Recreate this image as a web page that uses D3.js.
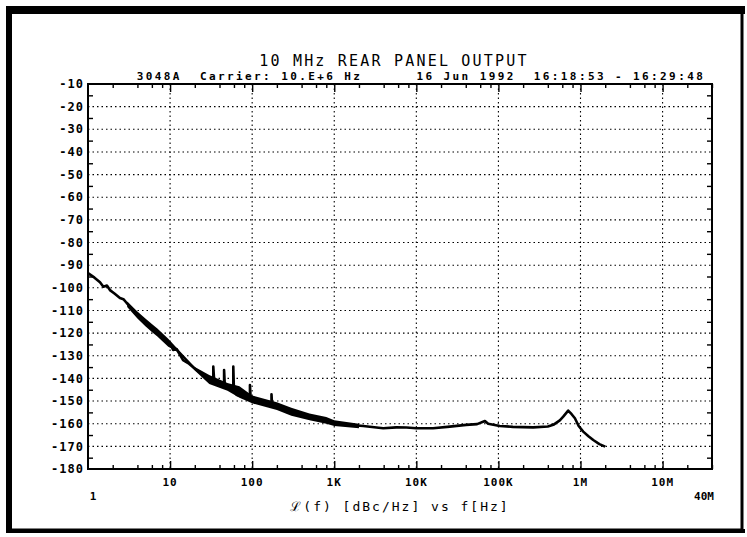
<!DOCTYPE html>
<html>
<head>
<meta charset="utf-8">
<script src="https://cdn.jsdelivr.net/npm/d3@7"></script>
<style>
  html, body { margin: 0; padding: 0; background: #fff; }
  svg text { font-family: "DejaVu Sans Mono", monospace; fill: #000; white-space: pre; }
</style>
</head>
<body>
<svg id="chart" width="747" height="537"></svg>
<script>
// --- Data ---
const traceFreq = [
  1, 1.2, 1.4, 1.54, 1.7, 1.85, 2.1, 2.45, 2.7, 2.96, 3.4, 3.93, 4.5, 5.2, 6.2, 7.5, 9.1, 10, 10.9, 12,
  14.4, 17, 21, 25, 28, 31, 33.6, 33.6, 34.5, 40, 45.5, 45.5, 46.5, 52, 58.9, 58.9, 60, 65, 80, 94,
  94, 96, 120, 150, 172, 172, 175, 199, 250, 317, 400, 550, 670, 888, 1170, 1540, 2250, 3950, 5700, 7600,
  10000, 16000, 25600, 40400, 55000, 68500, 75000, 104000, 150000, 265000, 400000, 466000, 560000, 616000,
  708000, 780000, 855000, 950000, 1.08e6, 1.25e6, 1.43e6, 1.7e6, 2.0e6
];
const traceLevel = [
  -93.5, -95.5, -97.5, -99.5, -99, -101, -102.5, -104.5, -105, -106.7, -109, -112, -113.5, -116, -118.6, -121, -123.8, -124.5, -127.4, -127,
  -131.9, -133.5, -136.3, -138, -139.9, -141, -141.4, -134.8, -141.5, -142.5, -143.6, -136.3, -143.5, -144, -144.8, -134.8, -145.5, -147.3, -148, -149.5,
  -142.9, -149.5, -150, -151.5, -151, -147, -152, -152.5, -154, -155.4, -156.5, -157.5, -157.6, -159, -160, -160.5, -161, -162, -161.6, -161.7,
  -162, -162, -161.3, -160.5, -160.2, -158.8, -160, -161, -161.4, -161.6, -161.2, -160.5, -158.5, -156.9,
  -154.2, -155.8, -157.6, -161, -163.5, -165.5, -167.2, -169, -170.1
];

// spread of the noisy trace (upper / lower edge)
const bandFreq = [3, 4, 5, 6, 7, 8, 9.5, 12, 20, 30, 50, 70, 100, 200, 300, 500, 800, 1000, 2000];
const bandHigh = [-106, -110.5, -113.5, -116, -118, -120, -122.5, -126.5, -135, -138.5, -142, -143.5, -147.5, -150.5, -153, -155.5, -157, -158.5, -160];
const bandLow = [-108.5, -113.5, -117, -119.5, -121.5, -123.5, -126, -128, -136.5, -142.5, -145.5, -148.5, -151, -154, -156.5, -158.5, -160, -161, -162];

const yTicks = [-10, -20, -30, -40, -50, -60, -70, -80, -90, -100, -110, -120, -130, -140, -150, -160, -170, -180];
const xTicks = [10, 100, 1e3, 1e4, 1e5, 1e6, 1e7];
const xTickLabels = ["10", "100", "1K", "10K", "100K", "1M", "10M"];
const xEnds = [1, 4e7];
const xEndLabels = ["1", "40M"];

const title = "10 MHz REAR PANEL OUTPUT";
const subtitle = "3048A  Carrier: 10.E+6 Hz      16 Jun 1992  16:18:53 - 16:29:48";
const axisTitle = "\u2112(f) [dBc/Hz] vs f[Hz]";

// --- Setup ---
const svg = d3.select("#chart");
const W = 747, H = 537;
const margin = { top: 84, right: 35, bottom: 68, left: 88 };

const x = d3.scaleLog().domain(xEnds).range([margin.left, W - margin.right]);
const y = d3.scaleLinear().domain([-180, -10]).range([H - margin.bottom, margin.top]);
const [x0, x1] = x.range();
const [yB, yT] = y.range();

// outer page border (scanned sheet edge)
svg.append("rect").attr("x", 9).attr("y", 10).attr("width", 733).attr("height", 520)
  .attr("fill", "none").attr("stroke", "#000").attr("stroke-width", 3);
svg.append("line").attr("x1", 6).attr("x2", 745).attr("y1", 10).attr("y2", 10)
  .attr("stroke", "#000").attr("stroke-width", 8);
svg.append("line").attr("x1", 9).attr("x2", 9).attr("y1", 6).attr("y2", 532)
  .attr("stroke", "#000").attr("stroke-width", 6);
svg.append("line").attr("x1", 6).attr("x2", 745).attr("y1", 531).attr("y2", 531)
  .attr("stroke", "#000").attr("stroke-width", 4);

// --- Grid ---
const grid = svg.append("g").attr("stroke", "#000").attr("stroke-width", 1.1)
  .attr("stroke-dasharray", "1.5,3");
grid.selectAll(".hg").data(yTicks.slice(1, -1)).join("line")
  .attr("x1", x0).attr("x2", x1).attr("y1", d => y(d)).attr("y2", d => y(d));
grid.selectAll(".vg").data(xTicks).join("line")
  .attr("x1", d => x(d)).attr("x2", d => x(d)).attr("y1", yT).attr("y2", yB);

// --- Ticks (inward) ---
const minorX = x.ticks().filter(d => {
  const m = d / Math.pow(10, Math.floor(Math.log10(d) + 1e-9));
  return [2, 4, 6, 8].some(k => Math.abs(m - k) < 1e-6);
});
const minorY = d3.range(-175, -10, 10);

const tickStyle = g => g.call(s => s.select(".domain").remove())
  .selectAll("line").attr("stroke", "#000").attr("stroke-width", 1.4);

svg.append("g").attr("transform", `translate(0,${yB})`)
  .call(d3.axisTop(x).tickValues(minorX).tickSize(4).tickFormat("")).call(tickStyle);
svg.append("g").attr("transform", `translate(0,${yB})`)
  .call(d3.axisTop(x).tickValues(xTicks).tickSize(8).tickFormat("")).call(tickStyle);
svg.append("g").attr("transform", `translate(0,${yT})`)
  .call(d3.axisBottom(x).tickValues(minorX).tickSize(4).tickFormat("")).call(tickStyle);
svg.append("g").attr("transform", `translate(0,${yT})`)
  .call(d3.axisBottom(x).tickValues(xTicks).tickSize(8).tickFormat("")).call(tickStyle);
svg.append("g").attr("transform", `translate(${x0},0)`)
  .call(d3.axisRight(y).tickValues(minorY).tickSize(5).tickFormat("")).call(tickStyle);
svg.append("g").attr("transform", `translate(${x1},0)`)
  .call(d3.axisLeft(y).tickValues(minorY).tickSize(5).tickFormat("")).call(tickStyle);

// frame
svg.append("rect").attr("x", x0).attr("y", yT).attr("width", x1 - x0).attr("height", yB - yT)
  .attr("fill", "none").attr("stroke", "#000").attr("stroke-width", 2);

// --- Trace ---
const band = d3.area()
  .x((d, i) => x(bandFreq[i]))
  .y0((d, i) => y(bandLow[i]))
  .y1(d => y(d));
svg.append("path").datum(bandHigh).attr("d", band).attr("fill", "#000");

const line = d3.line().x((d, i) => x(traceFreq[i])).y(d => y(d)).curve(d3.curveLinear);
svg.append("path").datum(traceLevel).attr("d", line)
  .attr("fill", "none").attr("stroke", "#000").attr("stroke-width", 2.6)
  .attr("stroke-linejoin", "round");

// --- Labels ---
svg.append("g").selectAll("text").data(yTicks).join("text")
  .attr("x", x0 - 4).attr("y", d => y(d)).attr("dy", "0.35em")
  .attr("text-anchor", "end").attr("font-size", 12).attr("font-weight", "bold")
  .attr("letter-spacing", 1).text(d => d);

svg.append("g").selectAll("text").data(xTicks).join("text")
  .attr("x", d => x(d)).attr("y", yB + 17)
  .attr("text-anchor", "middle").attr("font-size", 11).attr("font-weight", "bold")
  .attr("letter-spacing", 1).text((d, i) => xTickLabels[i]);

svg.append("g").selectAll("text").data(xEnds).join("text")
  .attr("x", (d, i) => x(d) + (i === 0 ? 5 : -8)).attr("y", yB + 31)
  .attr("text-anchor", "middle").attr("font-size", 11).attr("font-weight", "bold")
  .text((d, i) => xEndLabels[i]);

svg.append("text").attr("x", 400).attr("y", yB + 42).attr("text-anchor", "middle")
  .attr("font-size", 13).attr("letter-spacing", 2).text(axisTitle);

svg.append("text").attr("x", 394).attr("y", 66).attr("text-anchor", "middle")
  .attr("font-size", 15).attr("letter-spacing", 2.2).text(title);

svg.append("text").attr("x", 421).attr("y", 80).attr("text-anchor", "middle")
  .attr("font-size", 11).attr("font-weight", "bold").attr("letter-spacing", 2.4).text(subtitle);
</script>
</body>
</html>
